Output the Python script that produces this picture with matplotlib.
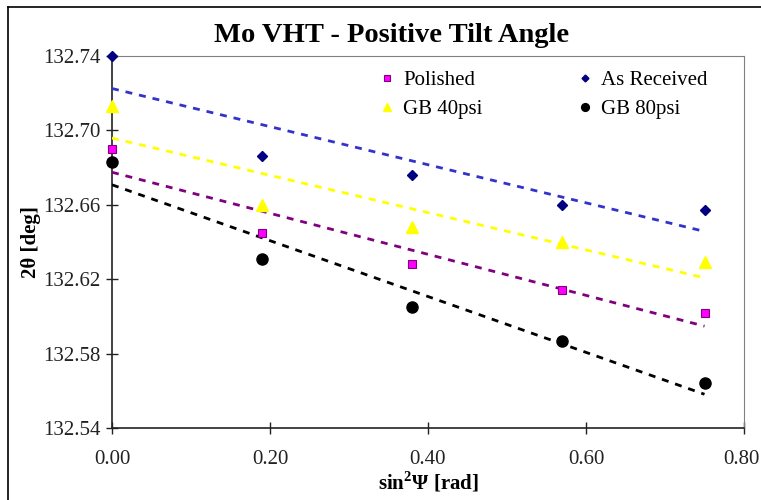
import matplotlib
matplotlib.use("Agg")
import matplotlib.pyplot as plt
import numpy as np
from matplotlib.lines import Line2D
from matplotlib.transforms import ScaledTranslation

plt.rcParams['font.family'] = ['Liberation Serif', 'DejaVu Serif']
plt.rcParams['mathtext.fontset'] = 'custom'
plt.rcParams['mathtext.rm'] = 'Liberation Serif'
plt.rcParams['mathtext.bf'] = 'Liberation Serif:bold'

sin2psi = [0.0, 0.19, 0.38, 0.57, 0.75]
polished = [132.690, 132.645, 132.628, 132.614, 132.602]
as_received = [132.740, 132.686, 132.676, 132.660, 132.657]
gb40 = [132.713, 132.660, 132.648, 132.640, 132.629]
gb80 = [132.683, 132.631, 132.605, 132.587, 132.564]

x_ticks = [0.0, 0.2, 0.4, 0.6, 0.8]
y_ticks = [132.54, 132.58, 132.62, 132.66, 132.70, 132.74]

fig = plt.figure(figsize=(7.61, 5.0), dpi=100)
# outer chart border (only top and left visible)
fig.lines.append(Line2D([8/761, 1.0], [1 - 6.5/500, 1 - 6.5/500], transform=fig.transFigure,
                        color='black', linewidth=1.2))
fig.lines.append(Line2D([8/761, 8/761], [0.0, 1 - 6.5/500], transform=fig.transFigure,
                        color='black', linewidth=1.2))

ax = fig.add_axes([112/761, 1 - 428/500, (744 - 112)/761, (428 - 56)/500])

series = [
    ("Polished", polished, dict(marker='s', color='#FF00FF', mec='#800080', ms=6, mew=0.8), '#800080'),
    ("GB 40psi", gb40, dict(marker='^', color='#FFFF00', mec='#FFFF00', ms=8), '#FFFF00'),
    ("As Received", as_received, dict(marker='D', color='#000080', mec='#000080', ms=5), '#3333CC'),
    ("GB 80psi", gb80, dict(marker='o', color='black', mec='black', ms=8), 'black'),
]

xs = np.array(sin2psi)
for label, ys, mk, tc in series:
    ax.plot(xs, ys, linestyle='none', label=label, clip_on=False, zorder=4, **mk)
    m, b = np.polyfit(xs, np.array(ys), 1)
    xt = np.array([xs.min(), xs.max()])
    ax.plot(xt, m * xt + b, linestyle=(0, (2.5, 2.5)), color=tc, linewidth=2, zorder=3)

ax.set_xlim(0, 0.8)
ax.set_ylim(132.54, 132.74)
ax.set_xticks(x_ticks)
ax.set_yticks(y_ticks)
ax.set_xticklabels([f"{v:.2f}" for v in x_ticks])
ax.set_yticklabels([f"{v:.2f}" for v in y_ticks])
ax.tick_params(direction='inout', length=9, width=1, labelsize=15, colors='#222222')
ax.tick_params(axis='x', pad=11)
ax.tick_params(axis='y', pad=4)
for s in ['top', 'right']:
    ax.spines[s].set_color('#808080')
for s in ['left', 'bottom']:
    ax.spines[s].set_color('#222222')
    ax.spines[s].set_linewidth(1.2)

last = ax.get_xticklabels()[-1]
last.set_transform(last.get_transform() + ScaledTranslation(-3/100, 0, fig.dpi_scale_trans))

ax.set_xlabel(r"sin$^{\mathbf{2}}$Ψ [rad]", fontsize=15, fontweight='bold', labelpad=1)
ax.set_ylabel("2θ [deg]", fontsize=15, fontweight='bold', labelpad=1)
fig.text(392/761, 1 - 35/500, "Mo VHT - Positive Tilt Angle",
         ha='center', va='center', fontsize=20.5, fontweight='bold')

leg = ax.legend(ncol=2, loc='upper left', bbox_to_anchor=(0.395, 1.012), frameon=False,
                fontsize=15, handlelength=0.6, handletextpad=0.5, columnspacing=4.6,
                markerscale=0.7, labelspacing=0.45)

fig.savefig("out.png", dpi=100)
